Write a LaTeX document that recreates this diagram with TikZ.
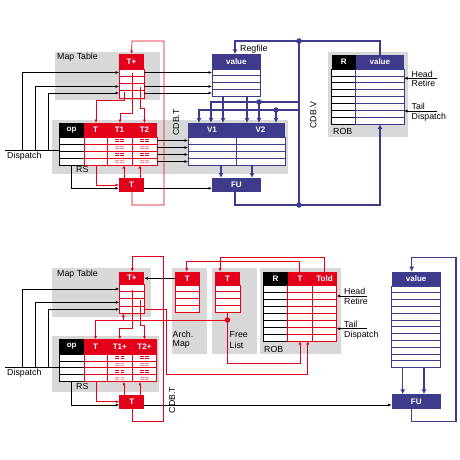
\documentclass[tikz,border=0pt]{standalone}
\usepackage{fontspec}
\setmainfont{Liberation Sans}
\usetikzlibrary{arrows.meta}
\definecolor{tred}{RGB}{228,0,27}
\definecolor{tblue}{RGB}{62,58,140}
\definecolor{boxgray}{RGB}{216,216,216}
\tikzset{
  graybox/.style={fill=boxgray, draw=none},
  hdtext/.style={text=white, font=\fontsize{8}{9.5}\selectfont\bfseries, inner sep=0pt},
  lbl/.style={font=\fontsize{8.8}{10}\selectfont, inner sep=0pt},
  rline/.style={tred, line width=0.7pt},
  bline/.style={black, line width=0.7pt},
  vline/.style={tblue, line width=1.5pt},
  tip/.style={-{Latex[length=3.5pt,width=3pt]}},
  vtip/.style={-{Latex[length=5pt,width=5pt]}},
  jdot/.style={circle, fill=#1, inner sep=0pt, minimum size=5.5pt},
}
% header cell and rows of one table column
% name, x left, x right, y top, y header bottom, rows, row height, colour, title
\newcommand{\tabcol}[9]{%
  \fill[#8] (#2,#4) rectangle (#3,#5);
  \node[hdtext] (#1) at ({(#2+#3)/2},{(#4+#5)/2}) {#9};
  \foreach \r in {1,...,#6}
    \draw[#8, fill=white, line width=0.7pt] (#2,{#5+(\r-1)*#7}) rectangle (#3,{#5+\r*#7});
}
\begin{document}
\begin{tikzpicture}[x=1pt, y=-1pt]
\useasboundingbox (0,0) rectangle (460,460);

%%%%%%%% upper picture
\fill[graybox] (55,52) rectangle (160,100);
\fill[graybox] (52,120) rectangle (288,174);
\fill[graybox] (327.7,52.3) rectangle (408.3,136.7);

\tabcol{tplusA}{119}{144}{54}{69}{4}{7.25}{tred}{T+}
\tabcol{rsopA}{59}{84}{123}{137}{4}{7}{black}{op}
\tabcol{rstA}{84}{107}{123}{137}{4}{7}{tred}{T}
\tabcol{rsta}{107}{132}{123}{137}{4}{7}{tred}{T1}
\tabcol{rstb}{132}{157}{123}{137}{4}{7}{tred}{T2}
\tabcol{rsva}{188}{236}{123}{137}{4}{7}{tblue}{V1}
\tabcol{rsvb}{236}{285}{123}{137}{4}{7}{tblue}{V2}
\tabcol{regfA}{212}{260.7}{54.3}{69}{4}{6.75}{tblue}{value}
\tabcol{robrA}{331.7}{355.7}{55}{69}{8}{6.875}{black}{R}
\tabcol{robvA}{355.7}{404}{55}{69}{8}{6.875}{tblue}{value}
\node[hdtext, fill=tred, minimum width=25pt, minimum height=14pt] (tcmpA) at (131.5,185) {T};
\node[hdtext, fill=tblue, minimum width=48.7pt, minimum height=14.3pt] (fuA) at (236.35,185.1) {FU};

% tag compare marks
\foreach \cx in {119.5,144.5}
  \foreach \r/\cc in {1/tred,2/tred!45,3/tred,4/tred!45}
    \foreach \dx in {-2.7,2.7}
      \foreach \dy in {-0.9,0.9}
        \draw[\cc, line width=0.6pt] ({\cx+\dx-1.9},{137+(\r-0.5)*7+\dy}) -- ({\cx+\dx+1.9},{137+(\r-0.5)*7+\dy});

% dispatch
\draw[bline] (5,150.7) -- (59,150.7);
\draw[bline,tip] (22.7,150.7) |- (119,72.5);
\draw[bline,tip] (35.3,150.7) |- (119,86.5);
\draw[bline,tip] (48.3,150.7) |- (119,93);
\foreach \y in {72.5,86.5,93}
  \draw[bline,tip] (144,\y) -- (212,\y);
\foreach \y in {140.5,147.5,154.5,161.5}
  \draw[bline,tip] (157,\y) -- (188,\y);
\draw[bline,tip] (71.7,165) |- (tcmpA.west |- 0,188.3);
\draw[bline,tip] (144,188.3) -- (212,188.3);

% tags
\draw[rline,tip] (132,192) -- (132,205) -- (164,205) -- (164,41) -- (132,41) -- (tplusA.north |- 0,54);
\draw[rline,tip] (132,72.6) -- (132,113) -- (120,113) -- (120,123);
\draw[rline,tip] (140,87) -- (140,108) -- (144.5,108) -- (144.5,123);
\draw[rline,tip] (124,92) -- (124,100) -- (96,100) -- (96,123);
\draw[rline,tip] (96,165) |- (119,185);
\draw[rline,tip] (124,178) -- (124,165);
\draw[rline,tip] (140,178) -- (140,165);

% values
\draw[vline,vtip] (380,55) -- (380,41) -- (235,41) -- (235,54.3);
\draw[vline] (299,41) -- (299,205);
\draw[vline,vtip] (235,192.3) -- (235,205) -- (380,205) -- (380,124);
\draw[vline,vtip] (223,96) -- (223,123);
\draw[vline,vtip] (247,96) -- (247,123);
\draw[vline,vtip] (299,102) -- (211,102) -- (211,123);
\draw[vline,vtip] (259,102) -- (259,123);
\draw[vline,vtip] (299,110) -- (199,110) -- (199,123);
\draw[vline,vtip] (276,110) -- (276,123);
\draw[vline,vtip] (221,165) -- (221,178);
\draw[vline,vtip] (252,165) -- (252,178);
\node[jdot=tblue] (dvA) at (299,41) {};
\node[jdot=tblue] (dvB) at (299,205) {};
\node[jdot=tblue] (dvC) at (259,102) {};
\node[jdot=tblue] (dvD) at (276,110) {};

% head and tail
\draw[bline,tip] (437,78.3) -- (404,78.3);
\draw[bline,tip] (437,111) -- (404,111);

\node[lbl, anchor=west] (mapA) at (57,57.5) {Map Table};
\node[lbl, anchor=west] (dispA) at (7,156.5) {Dispatch};
\node[lbl, anchor=west] (rsA) at (76,169.5) {RS};
\node[lbl, anchor=west] (regA) at (240,49.5) {Regfile};
\node[lbl, anchor=west] (robA) at (333,131.7) {ROB};
\node[lbl, rotate=90] (cdbtA) at (176,122.5) {CDB.T};
\node[lbl, rotate=90] (cdbvA) at (313.3,115) {CDB.V};
\node[lbl, anchor=south west] (headA) at (411.5,77.3) {Head};
\node[lbl, anchor=north west] (retA) at (411.5,80.3) {Retire};
\node[lbl, anchor=south west] (tailA) at (411.5,110) {Tail};
\node[lbl, anchor=north west] (dispR) at (411.5,113) {Dispatch};

%%%%%%%% lower picture
\fill[graybox] (51.7,268.3) rectangle (150.7,316.7);
\fill[graybox] (51.7,336) rectangle (159.3,391.7);
\fill[graybox] (171.7,268.3) rectangle (206.7,354);
\fill[graybox] (211.7,268.3) rectangle (256.7,354);
\fill[graybox] (260,268.3) rectangle (340.7,354);

\tabcol{tplusB}{119.3}{144.3}{271.7}{284.3}{4}{7.25}{tred}{T+}
\tabcol{rsopB}{59.3}{84}{339.3}{354}{4}{6.9}{black}{op}
\tabcol{rstB}{84}{107.3}{339.3}{354}{4}{6.9}{tred}{T}
\tabcol{rstc}{107.3}{132.3}{339.3}{354}{4}{6.9}{tred}{T1+}
\tabcol{rstd}{132.3}{156.7}{339.3}{354}{4}{6.9}{tred}{T2+}
\tabcol{archT}{175}{199.5}{271.7}{285}{4}{6.8}{tred}{T}
\tabcol{freeT}{215}{240}{271.7}{285}{4}{6.8}{tred}{T}
\tabcol{robrB}{263.3}{287.7}{271.7}{285}{8}{7}{black}{R}
\tabcol{robtB}{287.7}{312.3}{271.7}{285}{8}{7}{tred}{T}
\tabcol{robtoB}{312.3}{336.7}{271.7}{285}{8}{7}{tred}{Told}
\tabcol{regfB}{391.7}{440.7}{271.7}{286}{12}{6.8}{tblue}{value}
\node[hdtext, fill=tred, minimum width=25pt, minimum height=14pt] (tcmpB) at (131.8,402) {T};
\node[hdtext, fill=tblue, minimum width=49pt, minimum height=14.7pt] (fuB) at (416.2,401.6) {FU};

\foreach \cx in {119.8,144.5}
  \foreach \r/\cc in {1/tred,2/tred!45,3/tred,4/tred!45}
    \foreach \dx in {-2.7,2.7}
      \foreach \dy in {-0.9,0.9}
        \draw[\cc, line width=0.6pt] ({\cx+\dx-1.9},{354+(\r-0.5)*6.9+\dy}) -- ({\cx+\dx+1.9},{354+(\r-0.5)*6.9+\dy});

% dispatch
\draw[bline] (5,367.3) -- (59.3,367.3);
\draw[bline,tip] (22.7,367.3) |- (119.3,289);
\draw[bline,tip] (35.7,367.3) |- (119.3,302.3);
\draw[bline,tip] (48.3,367.3) |- (119.3,309.3);
\draw[bline,tip] (175,278.3) -- (144.3,278.3);
\draw[bline,tip] (71.7,381.7) |- (119.3,405);
\draw[bline,tip] (144.3,405) -- (391.7,405);

% tags
\draw[rline,tip] (132.3,409) -- (132.3,421.7) -- (163.3,421.7) -- (163.3,256.7) -- (132.3,256.7) -- (132.3,271.7);
\draw[rline,tip] (132.3,290) -- (132.3,328.3) -- (119.8,328.3) -- (119.8,339.3);
\draw[rline,tip] (140,300) -- (140,325) -- (144.5,325) -- (144.5,339.3);
\draw[rline] (227.5,312.3) -- (227.5,320);
\draw[rline,tip] (227.5,320) -- (95.5,320) -- (95.5,339.3);
\draw[rline,tip] (123.3,320) -- (123.3,313.3);
\draw[rline,tip] (227.5,320) -- (227.5,363.3) -- (300,363.3) -- (300,341);
\draw[rline,tip] (144.3,309.3) -- (166.7,309.3) -- (166.7,374) -- (307.7,374) -- (307.7,341);
\draw[rline,tip] (96,381.7) |- (119.3,401.7);
\draw[rline,tip] (124,395) -- (124,381.7);
\draw[rline,tip] (140,395) -- (140,381.7);
\draw[rline,tip] (324,271.7) -- (324,257.7) -- (220,257.7) -- (220,271.7);
\draw[rline,tip] (299.3,271.7) -- (299.3,261.3) -- (186.7,261.3) -- (186.7,271.7);
\node[jdot=tred] (dfree) at (227.5,320) {};

% values
\draw[vline,vtip] (411.7,409) -- (411.7,421.7) -- (456,421.7) -- (456,257.3) -- (411.7,257.3) -- (411.7,271.7);
\draw[vline,vtip] (402.7,367.7) -- (402.7,394.3);
\draw[vline,vtip] (424,367.7) -- (424,394.3);

% head and tail
\draw[bline,tip] (367.3,296) -- (336.7,296);
\draw[bline,tip] (367.3,328.7) -- (336.7,328.7);

\node[lbl, anchor=west] (mapB) at (57,274) {Map Table};
\node[lbl, anchor=west] (dispB) at (7,373) {Dispatch};
\node[lbl, anchor=west] (rsB) at (76,386.5) {RS};
\node[lbl, anchor=west] (archA) at (172.5,334) {Arch.};
\node[lbl, anchor=west] (archB) at (172.5,344.5) {Map};
\node[lbl, anchor=west] (freeA) at (229.5,335) {Free};
\node[lbl, anchor=west] (freeB) at (229.5,345.7) {List};
\node[lbl, anchor=west] (robB) at (264,349) {ROB};
\node[lbl, rotate=90] (cdbtB) at (172,400) {CDB.T};
\node[lbl, anchor=south west] (headB) at (344,295) {Head};
\node[lbl, anchor=north west] (retB) at (344,298) {Retire};
\node[lbl, anchor=south west] (tailB) at (344,327.7) {Tail};
\node[lbl, anchor=north west] (dispS) at (344,330.7) {Dispatch};
\end{tikzpicture}
\end{document}
